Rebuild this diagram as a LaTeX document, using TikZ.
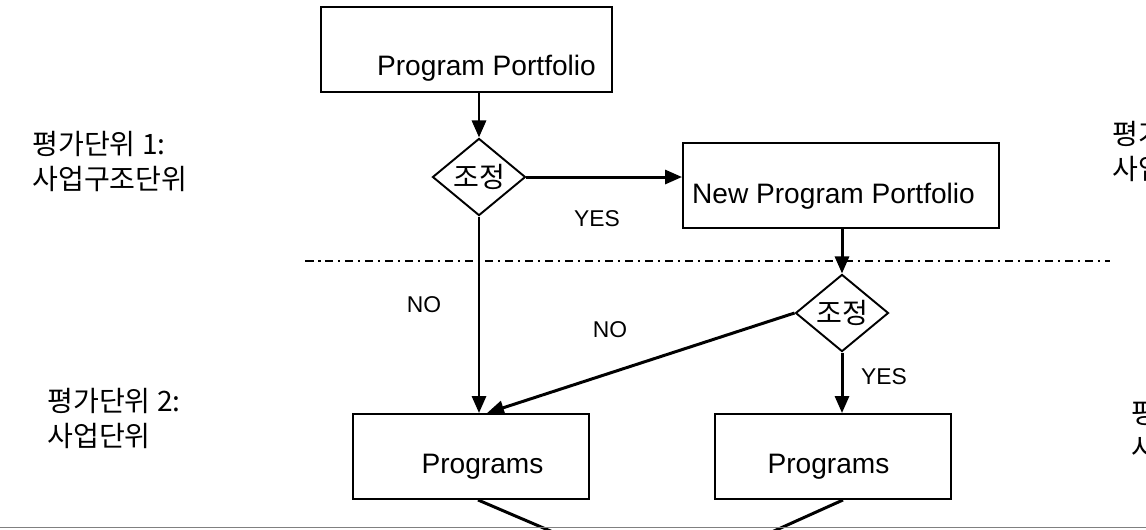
\documentclass[tikz,border=0pt]{standalone}
\usepackage{fontspec}
\setmainfont{Liberation Sans}
\newfontfamily\kr{Noto Sans CJK KR}
\usetikzlibrary{shapes.geometric, arrows.meta, positioning, calc}

\tikzset{
  unit/.style={
    rectangle, draw, line width=1.1pt, minimum width=#1, minimum height=1.7cm,
    inner sep=0pt, font=\fontsize{16}{19}\selectfont
  },
  decide/.style={
    diamond, draw, line width=1.1pt, minimum width=1.86cm, minimum height=1.36cm,
    inner sep=0pt, font=\kr\fontsize{16}{19}\selectfont
  },
  flow/.style={-{Triangle[length=0.34cm, width=0.28cm]}, line width=1.7pt},
  answer/.style={font=\fontsize{13}{15}\selectfont},
  tier/.style={align=left, inner sep=0pt, anchor=west, font=\kr\fontsize{16}{19.9}\selectfont},
  boundary/.style={line width=1.6pt, dash pattern=on 0.17cm off 0.09cm on 0.05cm off 0.09cm},
}

\begin{document}
\begin{tikzpicture}[x=0.02cm, y=-0.02cm]
\useasboundingbox (0,0) rectangle (1146,529);
\clip (0,0) rectangle (1146,529);

% Evaluation levels
\node[tier] (lv1) at (32,161) {평가단위 1:\\사업구조단위};
\node[tier] (lv2) at (47,418) {평가단위 2:\\사업단위};
\node[tier] (lv1r) at (1112,151) {평가단위 1:\\사업구조단위};
\node[tier] (lv2r) at (1131,430) {평가단위 2:\\사업단위};

% Portfolio level
\node[unit=5.82cm, text height=1.12cm, text depth=0.1cm] (pp) at (466.5,49.5) {\hspace*{0.8cm}Program Portfolio};
\node[decide] (adj1) at (479,177) {조정};
\node[unit=6.32cm, text height=0.8cm, text depth=0.1cm] (npp) at (841,185.5) {New Program Portfolio\hspace*{0.3cm}};

% Boundary between the levels
\coordinate (cutL) at (305,261);
\coordinate (cutR) at (1110,261);
\draw[boundary] (cutL) -- (cutR);

% Program level
\node[decide] (adj2) at (842,313) {조정};
\node[unit=4.72cm, text height=0.76cm, text depth=0.1cm] (progL) at (471,456.5) {\hspace*{0.46cm}Programs};
\node[unit=4.72cm, text height=0.76cm, text depth=0.1cm] (progR) at (833,456.5) {Programs\hspace*{0.18cm}};

% Flow
\draw[flow] (pp.south -| adj1.north) -- (adj1.north);
\draw[flow] (adj1.east) -- (adj1.east -| npp.west);
\draw[flow] (npp.south -| adj2.north) -- (adj2.north);
\draw[flow] (adj1.south) -- (adj1.south |- progL.north);
\draw[flow] (adj2.west) -- ([xshift=0.32cm]progL.north);
\draw[flow] (adj2.south) -- (adj2.south |- progR.north);

% Answers
\node[answer] (yes1) at (597,219) {YES};
\node[answer] (no1) at (424,305) {NO};
\node[answer] (no2) at (610,330) {NO};
\node[answer] (yes2) at (884,377) {YES};

% Outflow below the programs
\coordinate (merge) at (665,580);
\draw[line width=1.7pt] ([xshift=0.14cm]progL.south) -- (merge);
\draw[line width=1.7pt] ([xshift=0.2cm]progR.south) -- (merge);

\draw[gray, line width=0.8pt] (0,527.5) -- (1146,527.5);
\end{tikzpicture}
\end{document}
